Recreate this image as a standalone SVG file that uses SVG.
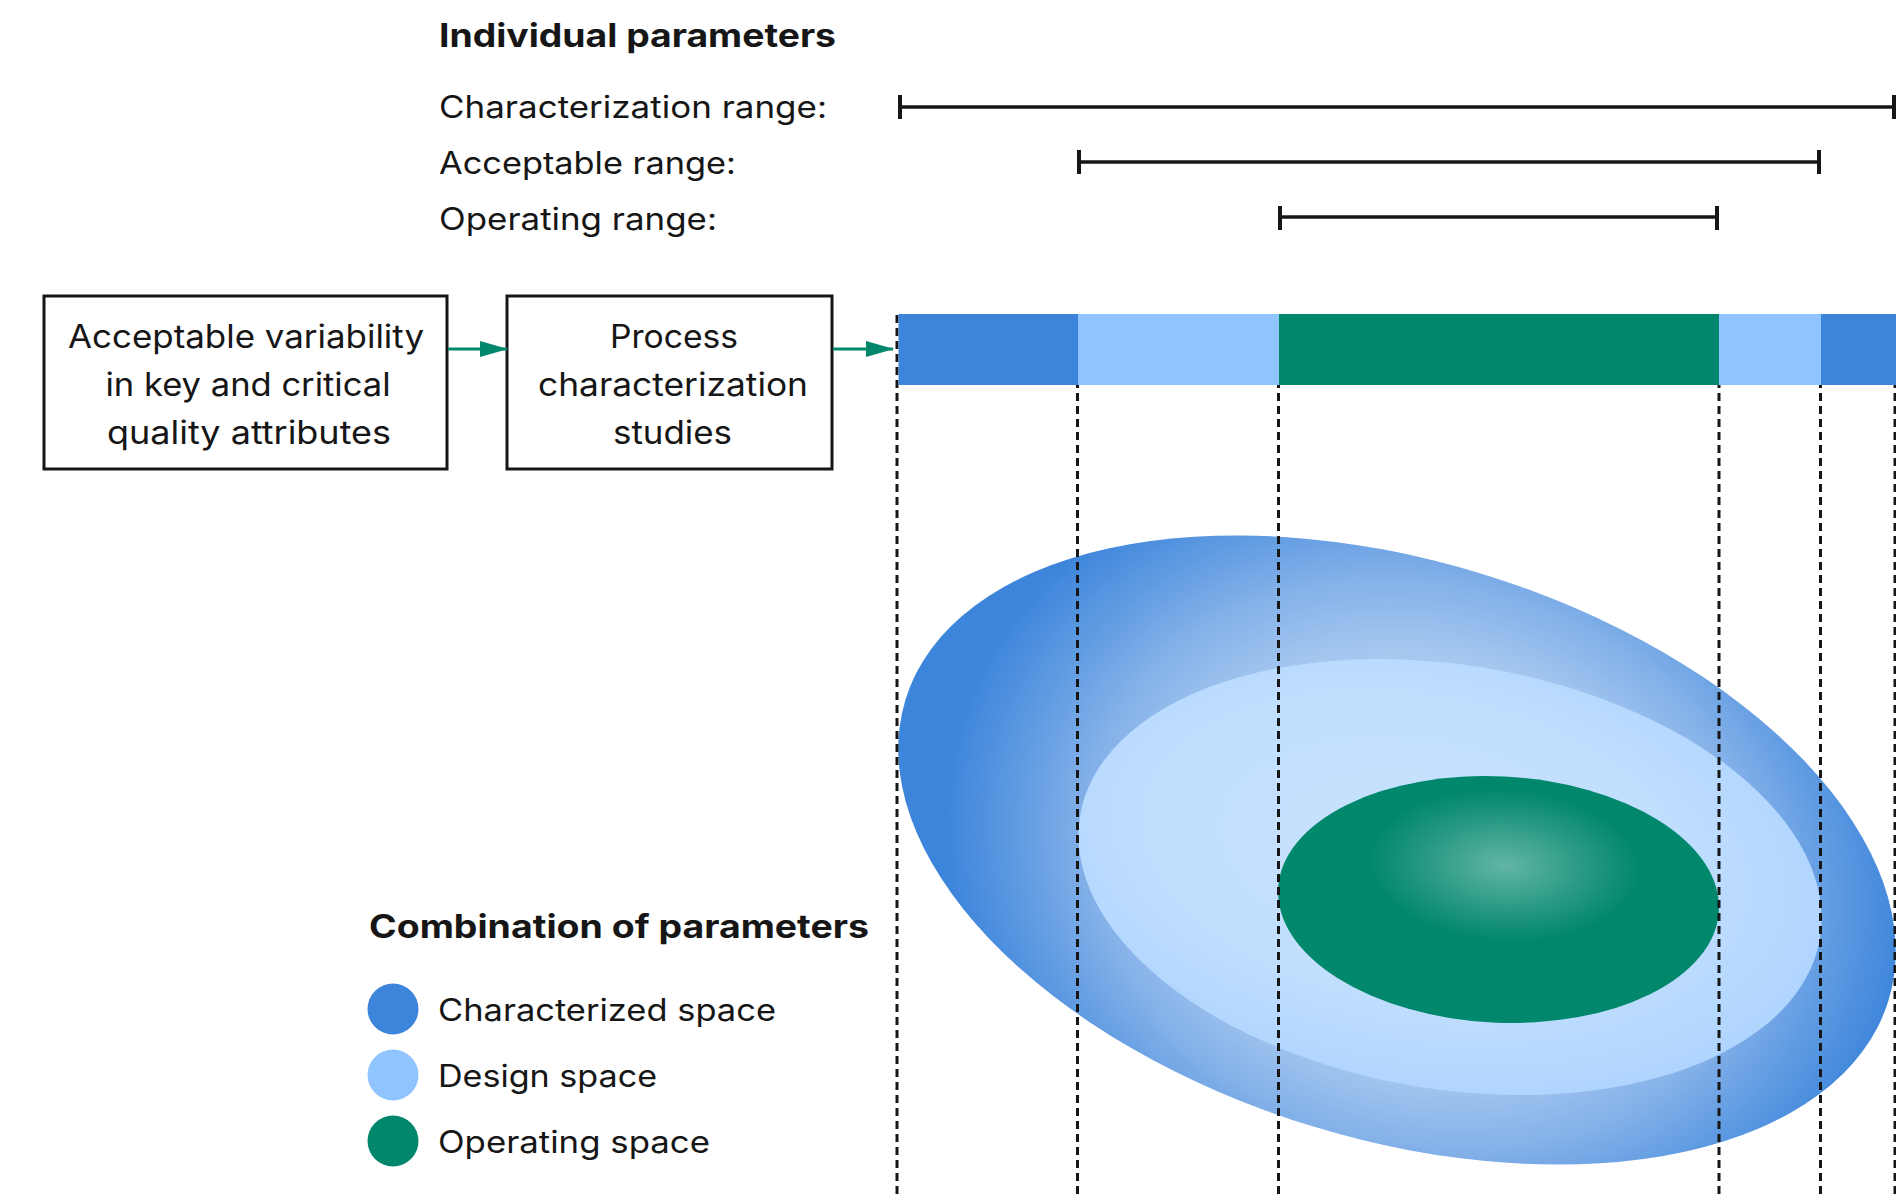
<svg xmlns="http://www.w3.org/2000/svg" width="1896" height="1197" viewBox="0 0 1896 1197">
<style>
text{font-family:Inter,"Noto Sans","Liberation Sans",sans-serif;fill:#161616}
.lbl{font-size:31px}
.bold{font-size:32px;font-weight:700}
.box{fill:#fff;stroke:#161616;stroke-width:3}
.bt{font-size:32px;text-anchor:middle}
.rng{stroke:#161616;stroke-width:3.5;fill:none}
.tick{stroke:#161616;stroke-width:4}
.dash{stroke:#161616;stroke-width:3;stroke-dasharray:8 5;fill:none}
.conn{stroke:#00876C;stroke-width:3;fill:none}
</style>
<defs>
<marker id="ah" markerUnits="userSpaceOnUse" markerWidth="28" markerHeight="16" refX="27" refY="8" orient="auto">
<path d="M0,0 L28,8 L0,16 Z" fill="#00876C"/>
</marker>
<radialGradient id="gOuter" cx="0.53" cy="0.51" r="0.5" gradientTransform="translate(0.53,0.51) scale(1,1.45) translate(-0.53,-0.51)">
<stop offset="0" stop-color="#D3E7FC"/>
<stop offset="0.5" stop-color="#A4C7EF"/>
<stop offset="0.66" stop-color="#86B2E9"/>
<stop offset="0.82" stop-color="#5C99E1"/>
<stop offset="0.95" stop-color="#3D85DB"/>
<stop offset="1" stop-color="#3D85DB"/>
</radialGradient>
<radialGradient id="gMid" cx="0.45" cy="0.45" r="0.6">
<stop offset="0" stop-color="#CAE3FD"/>
<stop offset="0.6" stop-color="#C0DEFE"/>
<stop offset="1" stop-color="#ADD3FF"/>
</radialGradient>
<radialGradient id="gIn" cx="0.51" cy="0.36" r="0.5">
<stop offset="0" stop-color="#62B5A6"/>
<stop offset="0.35" stop-color="#2A9A84"/>
<stop offset="0.62" stop-color="#00876C"/>
<stop offset="1" stop-color="#00876C"/>
</radialGradient>
</defs>

<g id="title-individual">
<text class="bold" x="439" y="47" textLength="397" lengthAdjust="spacingAndGlyphs">Individual parameters</text>
</g>

<g id="range-labels">
<text class="lbl" x="439" y="118" textLength="388" lengthAdjust="spacingAndGlyphs">Characterization range:</text>
<text class="lbl" x="439" y="174" textLength="297" lengthAdjust="spacingAndGlyphs">Acceptable range:</text>
<text class="lbl" x="439" y="230" textLength="278" lengthAdjust="spacingAndGlyphs">Operating range:</text>
</g>

<g id="range-lines">
<line class="rng" x1="900" y1="107" x2="1895" y2="107"/>
<line class="tick" x1="900" y1="95" x2="900" y2="119"/>
<line class="tick" x1="1894" y1="95" x2="1894" y2="119"/>
<line class="rng" x1="1079" y1="162" x2="1819" y2="162"/>
<line class="tick" x1="1079" y1="150" x2="1079" y2="174"/>
<line class="tick" x1="1819" y1="150" x2="1819" y2="174"/>
<line class="rng" x1="1280" y1="217" x2="1717" y2="217"/>
<line class="tick" x1="1280" y1="206" x2="1280" y2="230"/>
<line class="tick" x1="1717" y1="206" x2="1717" y2="230"/>
</g>

<g id="spaces">
<g transform="translate(1397,850) rotate(17)">
<ellipse cx="0" cy="0" rx="514" ry="289" fill="url(#gOuter)"/>
</g>
<g transform="translate(1450,877) rotate(9.4)">
<ellipse cx="0" cy="0" rx="375" ry="212" fill="url(#gMid)"/>
</g>
<g transform="translate(1498.5,899.5) rotate(2.9)">
<ellipse cx="0" cy="0" rx="220.7" ry="123.1" fill="url(#gIn)"/>
</g>
</g>

<g id="dashed-lines">
<line class="dash" x1="897" y1="315" x2="897" y2="1197"/>
<line class="dash" x1="1077.5" y1="315" x2="1077.5" y2="1197"/>
<line class="dash" x1="1278.5" y1="315" x2="1278.5" y2="1197"/>
<line class="dash" x1="1719" y1="315" x2="1719" y2="1197"/>
<line class="dash" x1="1820.5" y1="315" x2="1820.5" y2="1197"/>
<line class="dash" x1="1895" y1="315" x2="1895" y2="1197"/>
</g>

<g id="range-bar">
<rect x="898.5" y="314" width="179.5" height="71" fill="#3D85DB"/>
<rect x="1078" y="314" width="201" height="71" fill="#90C4FF"/>
<rect x="1279" y="314" width="440" height="71" fill="#00876C"/>
<rect x="1719" y="314" width="102" height="71" fill="#90C4FF"/>
<rect x="1821" y="314" width="75" height="71" fill="#3D85DB"/>
</g>

<g id="node-acceptable-variability">
<rect class="box" x="44" y="296" width="403" height="173"/>
<text class="bt" x="246" y="348" textLength="356" lengthAdjust="spacingAndGlyphs">Acceptable variability</text>
<text class="bt" x="248" y="396" textLength="285" lengthAdjust="spacingAndGlyphs">in key and critical</text>
<text class="bt" x="249" y="444" textLength="284" lengthAdjust="spacingAndGlyphs">quality attributes</text>
</g>

<g id="node-process-characterization">
<rect class="box" x="507" y="296" width="325" height="173"/>
<text class="bt" x="674" y="348" textLength="128" lengthAdjust="spacingAndGlyphs">Process</text>
<text class="bt" x="673" y="396" textLength="270" lengthAdjust="spacingAndGlyphs">characterization</text>
<text class="bt" x="672.5" y="444" textLength="119" lengthAdjust="spacingAndGlyphs">studies</text>
</g>

<g id="connectors">
<line class="conn" x1="448" y1="349" x2="507" y2="349" marker-end="url(#ah)"/>
<line class="conn" x1="833" y1="349" x2="893" y2="349" marker-end="url(#ah)"/>
</g>

<g id="legend">
<text class="bold" x="369" y="938" textLength="500" lengthAdjust="spacingAndGlyphs">Combination of parameters</text>
<circle cx="393" cy="1009" r="25.5" fill="#3D85DB"/>
<text class="lbl" x="438" y="1021" textLength="338" lengthAdjust="spacingAndGlyphs">Characterized space</text>
<circle cx="393" cy="1075" r="25.5" fill="#90C4FF"/>
<text class="lbl" x="438" y="1087" textLength="219" lengthAdjust="spacingAndGlyphs">Design space</text>
<circle cx="393" cy="1141" r="25.5" fill="#00876C"/>
<text class="lbl" x="438" y="1153" textLength="272" lengthAdjust="spacingAndGlyphs">Operating space</text>
</g>
</svg>
